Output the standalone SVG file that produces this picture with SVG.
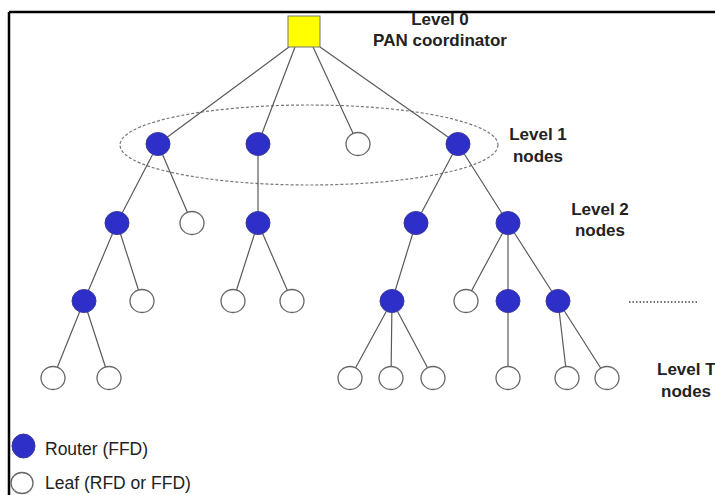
<svg xmlns="http://www.w3.org/2000/svg" width="715" height="495" viewBox="0 0 715 495">
<style>
.e{stroke:#5a5a5a;stroke-width:1.2;fill:none}
.r{fill:#2e2ec8;stroke:#3b3b9a;stroke-width:1}
.l{fill:#fff;stroke:#666;stroke-width:1.3}
.t{font-family:"Liberation Sans",Arial,sans-serif;font-weight:bold;font-size:17px;fill:#222;text-anchor:middle}
.g{font-family:"Liberation Sans",Arial,sans-serif;font-size:17.5px;fill:#222}
</style>
<rect width="715" height="495" fill="#fff"/>
<path d="M9 12H715M9 12V495" stroke="#000" stroke-width="2.5" fill="none"/>
<ellipse cx="309" cy="145" rx="189" ry="40" fill="none" stroke="#777" stroke-width="1.2" stroke-dasharray="3 2"/>
<g id="connectors">
<path class="e" d="M289 47L158 144M295 47L258 144M313 47L358 144M320 47L458 144"/>
<path class="e" d="M158 144L117 223M158 144L192 223M258 144L258 223M458 144L416 223M458 144L508 223"/>
<path class="e" d="M117 223L84 301M117 223L142 301M258 223L233 301M258 223L292 301M416 223L392 301M508 223L466 301M508 223L508 301M508 223L558 301"/>
<path class="e" d="M84 301L53 378M84 301L109 378M392 301L350 378M392 301L391 378M392 301L433 378M508 301L508 378M558 301L567 378M558 301L607 378"/>
</g>
<g id="root"><rect x="288" y="16" width="32" height="31" fill="#ffff00" stroke="#777" stroke-width="1"/></g>
<g id="n1a"><ellipse class="r" cx="158" cy="144" rx="12" ry="11.5"/></g>
<g id="n1b"><ellipse class="r" cx="258" cy="144" rx="12" ry="11.5"/></g>
<g id="n1c"><ellipse class="l" cx="358" cy="144" rx="12" ry="11.5"/></g>
<g id="n1d"><ellipse class="r" cx="458" cy="144" rx="12" ry="11.5"/></g>
<g id="n2a"><ellipse class="r" cx="117" cy="223" rx="12" ry="11.5"/></g>
<g id="n2b"><ellipse class="l" cx="192" cy="223" rx="12" ry="11.5"/></g>
<g id="n2c"><ellipse class="r" cx="258" cy="223" rx="12" ry="11.5"/></g>
<g id="n2d"><ellipse class="r" cx="416" cy="223" rx="12" ry="11.5"/></g>
<g id="n2e"><ellipse class="r" cx="508" cy="223" rx="12" ry="11.5"/></g>
<g id="n3a"><ellipse class="r" cx="84" cy="301" rx="12" ry="11.5"/></g>
<g id="n3b"><ellipse class="l" cx="142" cy="301" rx="12" ry="11.5"/></g>
<g id="n3c"><ellipse class="l" cx="233" cy="301" rx="12" ry="11.5"/></g>
<g id="n3d"><ellipse class="l" cx="292" cy="301" rx="12" ry="11.5"/></g>
<g id="n3e"><ellipse class="r" cx="392" cy="301" rx="12" ry="11.5"/></g>
<g id="n3f"><ellipse class="l" cx="466" cy="301" rx="12" ry="11.5"/></g>
<g id="n3g"><ellipse class="r" cx="508" cy="301" rx="12" ry="11.5"/></g>
<g id="n3h"><ellipse class="r" cx="558" cy="301" rx="12" ry="11.5"/></g>
<g id="n4a"><ellipse class="l" cx="53" cy="378" rx="12" ry="11.5"/></g>
<g id="n4b"><ellipse class="l" cx="109" cy="378" rx="12" ry="11.5"/></g>
<g id="n4c"><ellipse class="l" cx="350" cy="378" rx="12" ry="11.5"/></g>
<g id="n4d"><ellipse class="l" cx="391" cy="378" rx="12" ry="11.5"/></g>
<g id="n4e"><ellipse class="l" cx="433" cy="378" rx="12" ry="11.5"/></g>
<g id="n4f"><ellipse class="l" cx="508" cy="378" rx="12" ry="11.5"/></g>
<g id="n4g"><ellipse class="l" cx="567" cy="378" rx="12" ry="11.5"/></g>
<g id="n4h"><ellipse class="l" cx="607" cy="378" rx="12" ry="11.5"/></g>
<path d="M629 302H697" stroke="#444" stroke-width="1.5" stroke-dasharray="1.5 2"/>
<g id="labels">
<text class="t" x="440" y="25">Level 0</text>
<text class="t" x="440" y="46">PAN coordinator</text>
<text class="t" x="538" y="140">Level 1</text>
<text class="t" x="538" y="162">nodes</text>
<text class="t" x="600" y="215">Level 2</text>
<text class="t" x="600" y="236">nodes</text>
<text class="t" x="657" y="375" style="text-anchor:start">Level T</text>
<text class="t" x="661" y="397" style="text-anchor:start">nodes</text>
</g>
<g id="legend">
<ellipse class="r" cx="23.5" cy="446" rx="11.5" ry="12"/>
<text class="g" x="45" y="455">Router (FFD)</text>
<ellipse class="l" cx="22" cy="483" rx="11" ry="10.5"/>
<text class="g" x="45" y="489">Leaf (RFD or FFD)</text>
</g>
</svg>
